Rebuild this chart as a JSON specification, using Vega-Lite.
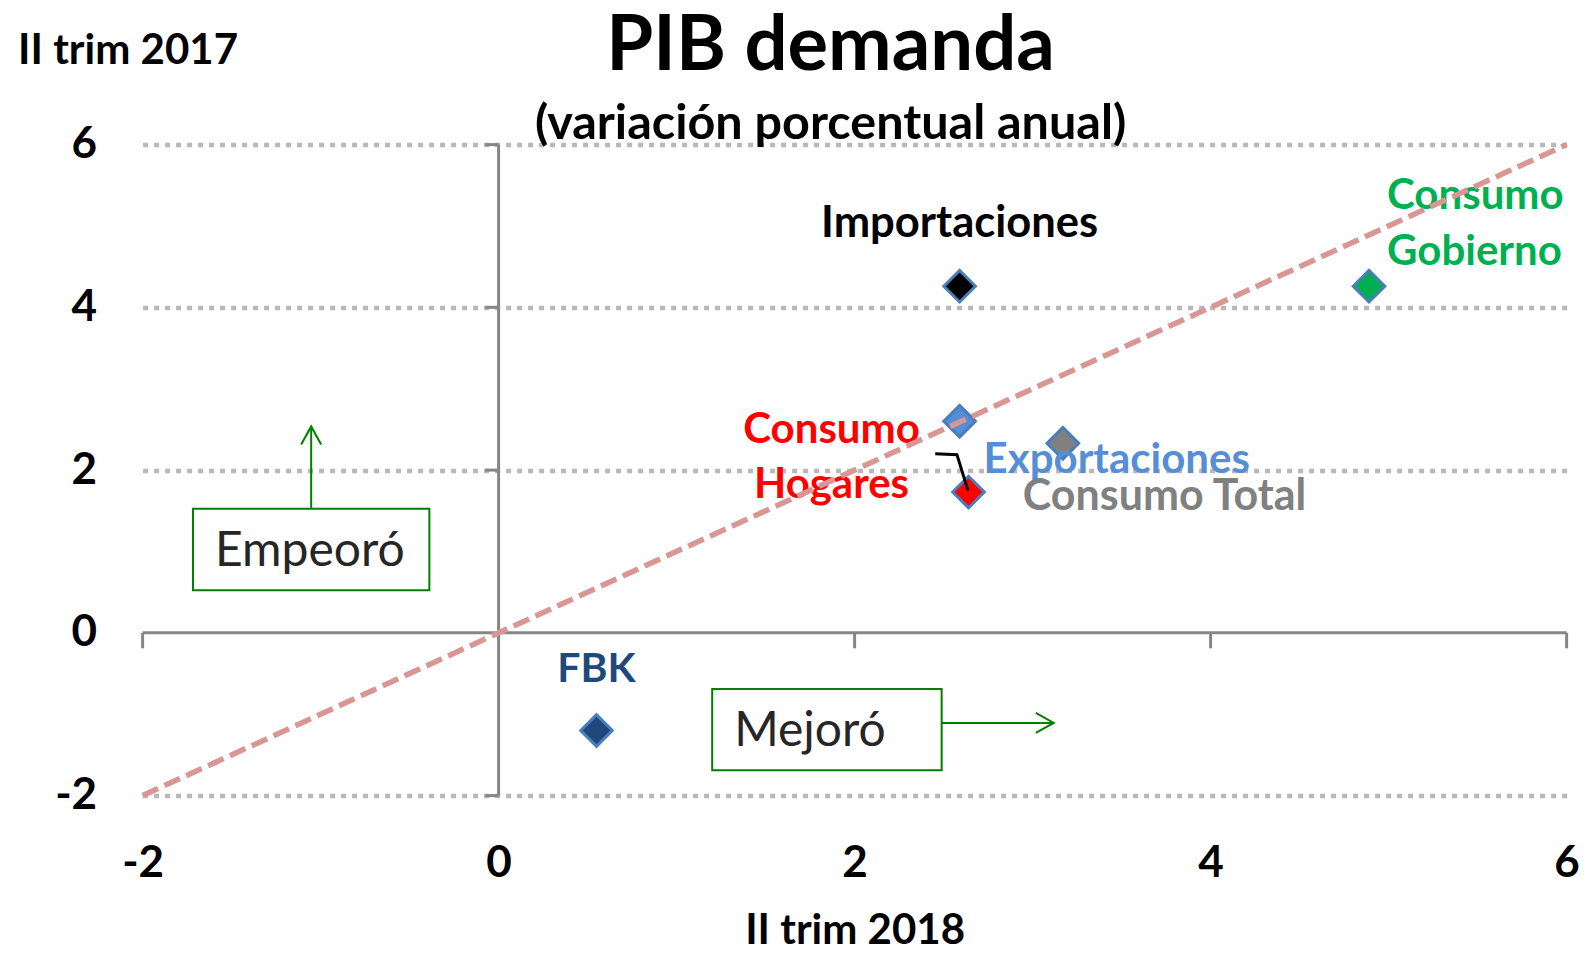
{
  "$schema": "https://vega.github.io/schema/vega-lite/v6.json",
  "width": 1424,
  "height": 651,
  "autosize": {"type": "none"},
  "padding": {"left": 142.6, "top": 144.6, "right": 19.4, "bottom": 157.4},
  "background": "white",
  "config": {"view": {"stroke": null}, "font": "Lato"},
  "title": {
    "text": "PIB demanda",
    "subtitle": "(variación porcentual anual)",
    "font": "Lato",
    "subtitleFont": "Lato",
    "fontSize": 76,
    "fontWeight": "bold",
    "subtitleFontSize": 48.5,
    "subtitleFontWeight": "bold",
    "color": "#000000",
    "subtitleColor": "#000000",
    "anchor": "middle",
    "dx": -24,
    "offset": -120,
    "subtitlePadding": 15
  },
  "datasets": {
    "points": [
      {"name": "Importaciones", "label": "Importaciones", "trim2018": 2.59, "trim2017": 4.26},
      {"name": "Consumo Gobierno", "label": "Consumo\nGobierno", "trim2018": 4.89, "trim2017": 4.26},
      {"name": "Exportaciones", "label": "Exportaciones", "trim2018": 2.59, "trim2017": 2.6},
      {"name": "Consumo Total", "label": "Consumo Total", "trim2018": 3.17, "trim2017": 2.33},
      {"name": "Consumo Hogares", "label": "Consumo\nHogares", "trim2018": 2.64, "trim2017": 1.73},
      {"name": "FBK", "label": "FBK", "trim2018": 0.55, "trim2017": -1.2}
    ],
    "ticks": [{"v": -2}, {"v": 2}, {"v": 4}, {"v": 6}],
    "boxes": [
      {"label": "Empeoró", "x1": -1.717, "x2": -0.389, "y1": 0.522, "y2": 1.526, "tx": -1.06, "ty": 0.817},
      {"label": "Mejoró", "x1": 1.2, "x2": 2.489, "y1": -1.689, "y2": -0.689, "tx": 1.749, "ty": -1.394}
    ],
    "arrows": [
      {"dir": "up", "x1": -1.053, "y1": 1.526, "x2": -1.053, "y2": 2.537},
      {"dir": "right", "x1": 2.489, "y1": -1.107, "x2": 3.119, "y2": -1.107}
    ],
    "leader": [
      {"o": 1, "x": 2.453, "y": 2.2},
      {"o": 2, "x": 2.575, "y": 2.19},
      {"o": 3, "x": 2.637, "y": 1.75}
    ],
    "axislines": [
      {"a": "x", "x1": -2, "x2": 6, "y1": 0, "y2": 0},
      {"a": "y", "x1": 0, "x2": 0, "y1": -2, "y2": 6}
    ],
    "diagonal": [
      {"x1": -2, "y1": -2, "x2": 6, "y2": 6}
    ]
  },
  "layer": [
    {
      "data": {"name": "points"},
      "mark": {"type": "point", "opacity": 0},
      "encoding": {
        "x": {
          "field": "trim2018", "type": "quantitative",
          "scale": {"domain": [-2, 6], "nice": false, "zero": false},
          "axis": {
            "values": [-2, 0, 2, 4, 6], "labelExpr": "'' + datum.value",
            "domain": false, "ticks": false, "grid": false,
            "labelFont": "Lato", "labelFontSize": 44, "labelFontWeight": "bold", "labelColor": "#000000",
            "labelPadding": 81, "labelBaseline": "alphabetic", "labelFlush": false, "labelOverlap": false,
            "title": "II trim 2018", "titleFont": "Lato", "titleFontSize": 42, "titleFontWeight": "bold", "titleColor": "#000000",
            "titleBaseline": "alphabetic", "titleY": 148
          }
        },
        "y": {
          "field": "trim2017", "type": "quantitative",
          "scale": {"domain": [-2, 6], "nice": false, "zero": false},
          "axis": {
            "values": [-2, 0, 2, 4, 6], "labelExpr": "'' + datum.value",
            "domain": false, "ticks": false, "grid": true,
            "gridColor": {"condition": {"test": "datum.value === 0", "value": "transparent"}, "value": "#b8b8b8"},
            "gridDash": [5, 6], "gridWidth": 4.5,
            "labelFont": "Lato", "labelFontSize": 44, "labelFontWeight": "bold", "labelColor": "#000000",
            "labelPadding": 46, "labelFlush": false, "labelOverlap": false,
            "title": "II trim 2017", "titleFont": "Lato", "titleFontSize": 42, "titleFontWeight": "bold", "titleColor": "#000000",
            "titleAngle": 0, "titleAlign": "left", "titleBaseline": "alphabetic", "titleX": -125, "titleY": -81
          }
        }
      }
    },
    {
      "data": {"name": "boxes"},
      "mark": {"type": "rect", "fill": "white", "stroke": "#008000", "strokeWidth": 2},
      "encoding": {
        "x": {"field": "x1", "type": "quantitative", "scale": {"domain": [-2, 6], "nice": false, "zero": false}},
        "x2": {"field": "x2"},
        "y": {"field": "y1", "type": "quantitative", "scale": {"domain": [-2, 6], "nice": false, "zero": false}},
        "y2": {"field": "y2"}
      }
    },
    {
      "data": {"name": "boxes"},
      "mark": {"type": "text", "font": "Lato", "fontSize": 48, "color": "#262626", "align": "center", "baseline": "alphabetic"},
      "encoding": {
        "x": {"field": "tx", "type": "quantitative", "scale": {"domain": [-2, 6], "nice": false, "zero": false}},
        "y": {"field": "ty", "type": "quantitative", "scale": {"domain": [-2, 6], "nice": false, "zero": false}},
        "text": {"field": "label"}
      }
    },
    {
      "data": {"name": "arrows"},
      "mark": {"type": "rule", "color": "#008000", "strokeWidth": 2},
      "encoding": {
        "x": {"field": "x1", "type": "quantitative", "scale": {"domain": [-2, 6], "nice": false, "zero": false}},
        "x2": {"field": "x2"},
        "y": {"field": "y1", "type": "quantitative", "scale": {"domain": [-2, 6], "nice": false, "zero": false}},
        "y2": {"field": "y2"}
      }
    },
    {
      "data": {"name": "arrows"},
      "mark": {"type": "point", "filled": false, "color": "#008000", "strokeWidth": 2, "size": 1600, "opacity": 1},
      "encoding": {
        "x": {"field": "x2", "type": "quantitative", "scale": {"domain": [-2, 6], "nice": false, "zero": false}},
        "y": {"field": "y2", "type": "quantitative", "scale": {"domain": [-2, 6], "nice": false, "zero": false}},
        "shape": {
          "field": "dir", "type": "nominal", "legend": null,
          "scale": {"domain": ["up", "right"], "range": ["M -0.5 0.9 L 0 0 L 0.5 0.9", "M -0.9 -0.5 L 0 0 L -0.9 0.5"]}
        }
      }
    },
    {
      "data": {"name": "axislines"},
      "mark": {"type": "rule", "color": "#868686", "strokeWidth": 3},
      "encoding": {
        "x": {"field": "x1", "type": "quantitative", "scale": {"domain": [-2, 6], "nice": false, "zero": false}},
        "x2": {"field": "x2"},
        "y": {"field": "y1", "type": "quantitative", "scale": {"domain": [-2, 6], "nice": false, "zero": false}},
        "y2": {"field": "y2"}
      }
    },
    {
      "data": {"name": "ticks"},
      "mark": {"type": "rule", "color": "#868686", "strokeWidth": 3},
      "encoding": {
        "x": {"field": "v", "type": "quantitative", "scale": {"domain": [-2, 6], "nice": false, "zero": false}},
        "y": {"datum": 0, "type": "quantitative", "scale": {"domain": [-2, 6], "nice": false, "zero": false}},
        "y2": {"datum": -0.19}
      }
    },
    {
      "data": {"name": "ticks"},
      "mark": {"type": "rule", "color": "#868686", "strokeWidth": 3},
      "encoding": {
        "y": {"field": "v", "type": "quantitative", "scale": {"domain": [-2, 6], "nice": false, "zero": false}},
        "x": {"datum": 0, "type": "quantitative", "scale": {"domain": [-2, 6], "nice": false, "zero": false}},
        "x2": {"datum": -0.075}
      }
    },
    {
      "data": {"name": "points"},
      "mark": {"type": "point", "shape": "diamond", "filled": true, "size": 1000, "stroke": "#4a7ebb", "strokeWidth": 3, "opacity": 1},
      "encoding": {
        "x": {"field": "trim2018", "type": "quantitative", "scale": {"domain": [-2, 6], "nice": false, "zero": false}},
        "y": {"field": "trim2017", "type": "quantitative", "scale": {"domain": [-2, 6], "nice": false, "zero": false}},
        "color": {
          "field": "name", "type": "nominal", "legend": null,
          "scale": {
            "domain": ["Importaciones", "Consumo Gobierno", "Exportaciones", "Consumo Total", "Consumo Hogares", "FBK"],
            "range": ["#000000", "#00b050", "#558ed5", "#808080", "#ff0000", "#1f497d"]
          }
        }
      }
    },
    {
      "data": {"name": "leader"},
      "mark": {"type": "line", "color": "#000000", "strokeWidth": 3},
      "encoding": {
        "x": {"field": "x", "type": "quantitative", "scale": {"domain": [-2, 6], "nice": false, "zero": false}},
        "y": {"field": "y", "type": "quantitative", "scale": {"domain": [-2, 6], "nice": false, "zero": false}},
        "order": {"field": "o"}
      }
    },
    {
      "data": {"name": "points"},
      "transform": [{"filter": "datum.name === 'Importaciones'"}],
      "mark": {"type": "text", "font": "Lato", "fontSize": 43.5, "fontWeight": "bold", "align": "center", "baseline": "alphabetic", "dy": -49},
      "encoding": {
        "x": {"field": "trim2018", "type": "quantitative", "scale": {"domain": [-2, 6], "nice": false, "zero": false}},
        "y": {"field": "trim2017", "type": "quantitative", "scale": {"domain": [-2, 6], "nice": false, "zero": false}},
        "text": {"field": "label"},
        "color": {"field": "name", "type": "nominal", "legend": null}
      }
    },
    {
      "data": {"name": "points"},
      "transform": [{"filter": "datum.name === 'FBK'"}],
      "mark": {"type": "text", "font": "Lato", "fontSize": 41, "fontWeight": "bold", "align": "center", "baseline": "alphabetic", "dy": -49},
      "encoding": {
        "x": {"field": "trim2018", "type": "quantitative", "scale": {"domain": [-2, 6], "nice": false, "zero": false}},
        "y": {"field": "trim2017", "type": "quantitative", "scale": {"domain": [-2, 6], "nice": false, "zero": false}},
        "text": {"field": "label"},
        "color": {"field": "name", "type": "nominal", "legend": null}
      }
    },
    {
      "data": {"name": "points"},
      "transform": [{"filter": "datum.name === 'Consumo Gobierno'"}],
      "mark": {"type": "text", "font": "Lato", "fontSize": 42, "fontWeight": "bold", "align": "left", "baseline": "alphabetic", "dx": 18, "dy": -77, "lineBreak": "\n", "lineHeight": 56},
      "encoding": {
        "x": {"field": "trim2018", "type": "quantitative", "scale": {"domain": [-2, 6], "nice": false, "zero": false}},
        "y": {"field": "trim2017", "type": "quantitative", "scale": {"domain": [-2, 6], "nice": false, "zero": false}},
        "text": {"field": "label"},
        "color": {"field": "name", "type": "nominal", "legend": null}
      }
    },
    {
      "data": {"name": "points"},
      "transform": [{"filter": "datum.name === 'Consumo Hogares'"}],
      "mark": {"type": "text", "font": "Lato", "fontSize": 42, "fontWeight": "bold", "align": "center", "baseline": "alphabetic", "dx": -137, "dy": -49, "lineBreak": "\n", "lineHeight": 55},
      "encoding": {
        "x": {"field": "trim2018", "type": "quantitative", "scale": {"domain": [-2, 6], "nice": false, "zero": false}},
        "y": {"field": "trim2017", "type": "quantitative", "scale": {"domain": [-2, 6], "nice": false, "zero": false}},
        "text": {"field": "label"},
        "color": {"field": "name", "type": "nominal", "legend": null}
      }
    },
    {
      "data": {"name": "points"},
      "transform": [{"filter": "datum.name === 'Exportaciones'"}],
      "mark": {"type": "text", "font": "Lato", "fontSize": 42, "fontWeight": "bold", "align": "left", "baseline": "alphabetic", "dx": 24, "dy": 52},
      "encoding": {
        "x": {"field": "trim2018", "type": "quantitative", "scale": {"domain": [-2, 6], "nice": false, "zero": false}},
        "y": {"field": "trim2017", "type": "quantitative", "scale": {"domain": [-2, 6], "nice": false, "zero": false}},
        "text": {"field": "label"},
        "color": {"field": "name", "type": "nominal", "legend": null}
      }
    },
    {
      "data": {"name": "points"},
      "transform": [{"filter": "datum.name === 'Consumo Total'"}],
      "mark": {"type": "text", "font": "Lato", "fontSize": 43, "fontWeight": "bold", "align": "left", "baseline": "alphabetic", "dx": -40, "dy": 67},
      "encoding": {
        "x": {"field": "trim2018", "type": "quantitative", "scale": {"domain": [-2, 6], "nice": false, "zero": false}},
        "y": {"field": "trim2017", "type": "quantitative", "scale": {"domain": [-2, 6], "nice": false, "zero": false}},
        "text": {"field": "label"},
        "color": {"field": "name", "type": "nominal", "legend": null}
      }
    },
    {
      "data": {"name": "diagonal"},
      "mark": {"type": "rule", "color": "#d99694", "strokeWidth": 5.5, "strokeDash": [17, 7]},
      "encoding": {
        "x": {"field": "x1", "type": "quantitative", "scale": {"domain": [-2, 6], "nice": false, "zero": false}},
        "y": {"field": "y1", "type": "quantitative", "scale": {"domain": [-2, 6], "nice": false, "zero": false}},
        "x2": {"field": "x2"},
        "y2": {"field": "y2"}
      }
    }
  ]
}
